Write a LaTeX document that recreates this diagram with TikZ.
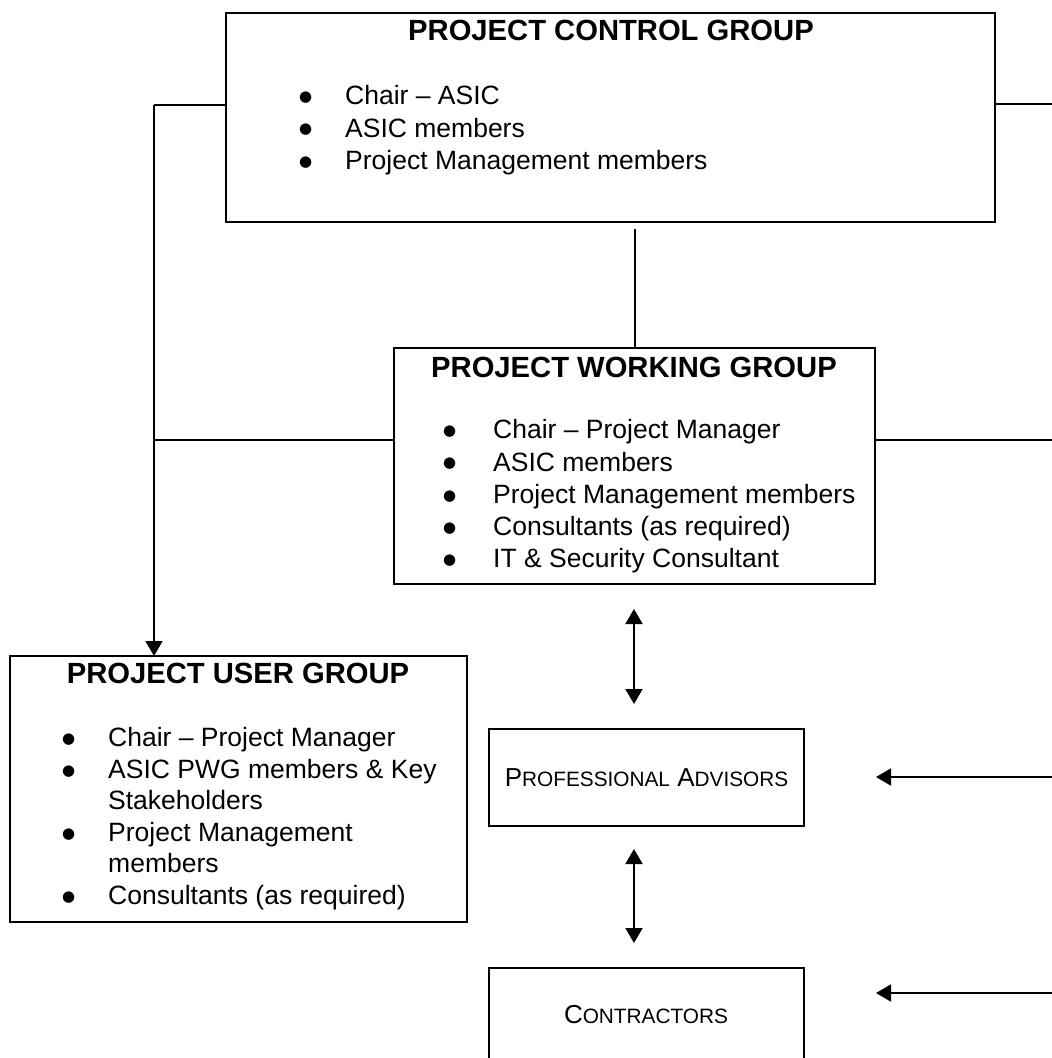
\documentclass[tikz,border=0pt]{standalone}
\usepackage{fontspec}
\setmainfont{Liberation Sans}
\newfontfamily\bulfont{DejaVu Sans}
\usetikzlibrary{arrows.meta}
\newcommand{\smc}[1]{{\fontsize{20.8}{24}\selectfont #1}}
\newcommand{\bul}[1]{\makebox[#1][l]{\hspace{-1pt}\raisebox{3.5pt}[0pt][0pt]{\bulfont\fontsize{15}{15}\selectfont ●}}}
\begin{document}
\begin{tikzpicture}[x=1pt,y=-1pt,
  box/.style={draw=black, line width=2pt, rectangle, inner sep=0pt, outer sep=0pt},
  ttl/.style={anchor=center, inner sep=0pt, font=\bfseries\fontsize{29.2}{35}\selectfont},
  ln/.style={anchor=base west, inner sep=0pt, font=\fontsize{26.5}{32}\selectfont},
  sc/.style={anchor=center, inner sep=0pt, font=\fontsize{26}{30}\selectfont},
  conn/.style={draw=black, line width=1.6pt},
  tip/.tip={Triangle[length=15pt,width=17pt]},
  arr/.style={draw=black, line width=2pt, -tip},
  darr/.style={draw=black, line width=2pt, tip-tip}
]
\useasboundingbox (0,0) rectangle (1052,1058);
\clip (0,0) rectangle (1052,1058);

% ---------- boxes ----------
\node[box, minimum width=769pt, minimum height=209pt] (pcg) at (610.5,117.5) {};
\node[box, minimum width=481pt, minimum height=236pt] (pwg) at (634.5,466) {};
\node[box, minimum width=457pt, minimum height=266pt] (pug) at (238.5,789) {};
\node[box, minimum width=315pt, minimum height=97pt, sc] (pa) at (646.5,777.5)
  {P\smc{ROFESSIONAL} A\smc{DVISORS}};
\node[box, minimum width=315pt, minimum height=98pt] (con) at (646.5,1017) {};
\node[sc] (cont) at (646,1015) {C\smc{ONTRACTORS}};

% ---------- PCG text ----------
\node[ttl] (pcgt) at (611,30) {PROJECT CONTROL GROUP};
\node[ln] (pcg1) at (300,104.5) {\bul{45pt}Chair – ASIC};
\node[ln] (pcg2) at (300,137)   {\bul{45pt}ASIC members};
\node[ln] (pcg3) at (300,169.5) {\bul{45pt}Project Management members};

% ---------- PWG text ----------
\node[ttl] (pwgt) at (634,367) {PROJECT WORKING GROUP};
\node[ln] (pwg1) at (444,438.5) {\bul{49pt}Chair – Project Manager};
\node[ln] (pwg2) at (444,471)   {\bul{49pt}ASIC members};
\node[ln] (pwg3) at (444,503.5) {\bul{49pt}Project Management members};
\node[ln] (pwg4) at (444,535.5) {\bul{49pt}Consultants (as required)};
\node[ln] (pwg5) at (444,567.5) {\bul{49pt}IT \& Security Consultant};

% ---------- PUG text ----------
\node[ttl] (pugt) at (238,673) {PROJECT USER GROUP};
\node[ln] (pug1) at (63,746.5)  {\bul{45pt}Chair – Project Manager};
\node[ln] (pug2) at (63,778.5)  {\bul{45pt}ASIC PWG members \& Key};
\node[ln] (pug3) at (108,809.5) {Stakeholders};
\node[ln] (pug4) at (63,841.5)  {\bul{45pt}Project Management};
\node[ln] (pug5) at (108,872.5) {members};
\node[ln] (pug6) at (63,904.5)  {\bul{45pt}Consultants (as required)};

% ---------- connector coordinates ----------
\coordinate (jl1) at (154,105);
\coordinate (jl2) at (154,440);
\coordinate (rt1) at (1052,104);
\coordinate (rt2) at (1052,440);
\coordinate (pcgb) at (635,229);
\coordinate (a1t) at (634,609);
\coordinate (a1b) at (634,704);
\coordinate (a2t) at (634,849);
\coordinate (a2b) at (634,943);
\coordinate (rt3) at (1052,777);
\coordinate (tp3) at (876,777);
\coordinate (rt4) at (1052,993);
\coordinate (tp4) at (876,993);

% ---------- connectors ----------
\draw[conn] (pcg.west |- jl1) -- (jl1);
\draw[arr, line width=1.6pt] (jl1) -- (jl1 |- pug.north);
\draw[conn] (pcg.east |- rt1) -- (rt1);
\draw[conn] (pcgb) -- (pcgb |- pwg.north);
\draw[conn] (pwg.west |- jl2) -- (jl2);
\draw[conn] (pwg.east |- rt2) -- (rt2);
\draw[darr] (a1t) -- (a1b);
\draw[darr] (a2t) -- (a2b);
\draw[arr] (rt3) -- (tp3);
\draw[arr] (rt4) -- (tp4);
\end{tikzpicture}
\end{document}
